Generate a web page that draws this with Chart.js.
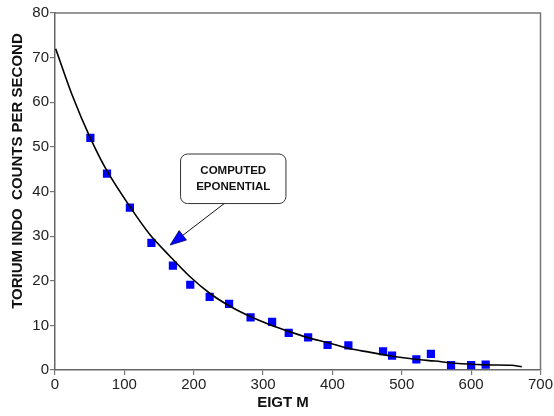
<!DOCTYPE html>
<html>
<head>
<meta charset="utf-8">
<script src="https://cdn.jsdelivr.net/npm/chart.js@4/dist/chart.umd.min.js"></script>
<style>
html,body{margin:0;padding:0;background:#ffffff;}
#wrap{width:554px;height:416px;position:relative;}
</style>
</head>
<body>
<div id="wrap"><canvas id="c" width="554" height="416"></canvas></div>
<script>
// ---- data ----
const depthMeasured  = [51, 75, 108, 139, 170, 195, 223, 251, 282, 313, 337, 365, 393, 423, 473, 486, 521, 542, 571, 600, 621];
const countsMeasured = [52, 44, 36.4, 28.5, 23.4, 19.1, 16.4, 14.8, 11.8, 10.8, 8.3, 7.3, 5.6, 5.5, 4.2, 3.2, 2.4, 3.6, 1.1, 1.1, 1.2];
const depthCurve  = [1, 25, 50, 75, 108, 137, 165, 194, 223, 251, 280, 309, 338, 366, 394, 424, 453, 486, 520, 548, 577, 620, 658, 673];
const countsCurve = [72.0, 61.5, 52.3, 44.6, 36.6, 30.3, 25.6, 21.0, 17.2, 14.4, 12.1, 10.2, 8.6, 7.2, 6.1, 4.8, 4.0, 3.1, 2.4, 2.0, 1.5, 1.15, 1.05, 0.75];
const xTicks = [0, 100, 200, 300, 400, 500, 600, 700];
const yTicks = [0, 10, 20, 30, 40, 50, 60, 70, 80];
const xTitle = 'EIGT M';
const yTitle = 'TORIUM INDO  COUNTS PER SECOND';
const calloutLines = ['COMPUTED', 'EPONENTIAL'];
// callout anchored in data units
const calloutBox = {x0: 181, x1: 333, y0: 37.3, y1: 48.4};
const calloutArrowFrom = {x: 244, y: 37.3};
const calloutArrowTo = {x: 166, y: 28.0};

const FONT = '"Liberation Sans", Arial, Helvetica, sans-serif';

function toPts(xs, ys) { return xs.map((x, i) => ({x: x, y: ys[i]})); }

const framePlugin = {
  id: 'frame',
  beforeDatasetsDraw(chart) {
    const a = chart.chartArea, ctx = chart.ctx;
    ctx.save();
    ctx.strokeStyle = '#777777';
    ctx.lineWidth = 1.5;
    ctx.beginPath();
    ctx.moveTo(a.left, a.top);
    ctx.lineTo(a.right, a.top);
    ctx.lineTo(a.right, a.bottom);
    ctx.stroke();
    ctx.restore();
  },
  afterDraw(chart) {
    const ctx = chart.ctx, xs = chart.scales.x, ys = chart.scales.y;
    ctx.save();
    // axis titles
    ctx.fillStyle = '#111111';
    ctx.font = 'bold 15px ' + FONT;
    ctx.textAlign = 'center';
    ctx.textBaseline = 'middle';
    ctx.fillText(xTitle, 283, 403);
    ctx.save();
    ctx.translate(18, 171);
    ctx.rotate(-Math.PI / 2);
    ctx.fillText(yTitle, 0, 0);
    ctx.restore();

    // callout box
    const bx0 = xs.getPixelForValue(calloutBox.x0), bx1 = xs.getPixelForValue(calloutBox.x1);
    const by0 = ys.getPixelForValue(calloutBox.y1), by1 = ys.getPixelForValue(calloutBox.y0);
    const r = 7;
    ctx.beginPath();
    ctx.moveTo(bx0 + r, by0);
    ctx.lineTo(bx1 - r, by0);
    ctx.arcTo(bx1, by0, bx1, by0 + r, r);
    ctx.lineTo(bx1, by1 - r);
    ctx.arcTo(bx1, by1, bx1 - r, by1, r);
    ctx.lineTo(bx0 + r, by1);
    ctx.arcTo(bx0, by1, bx0, by1 - r, r);
    ctx.lineTo(bx0, by0 + r);
    ctx.arcTo(bx0, by0, bx0 + r, by0, r);
    ctx.closePath();
    ctx.fillStyle = '#ffffff';
    ctx.fill();
    ctx.strokeStyle = '#333333';
    ctx.lineWidth = 1;
    ctx.stroke();

    ctx.fillStyle = '#111111';
    ctx.font = 'bold 11.5px ' + FONT;
    const cx = (bx0 + bx1) / 2, cy = (by0 + by1) / 2;
    ctx.fillText(calloutLines[0], cx, cy - 8.3);
    ctx.fillText(calloutLines[1], cx, cy + 8.3);

    // arrow
    const ax0 = xs.getPixelForValue(calloutArrowFrom.x), ay0 = ys.getPixelForValue(calloutArrowFrom.y);
    const ax1 = xs.getPixelForValue(calloutArrowTo.x), ay1 = ys.getPixelForValue(calloutArrowTo.y);
    const ang = Math.atan2(ay1 - ay0, ax1 - ax0);
    const L = 16, W = 6;
    const baseX = ax1 - L * Math.cos(ang), baseY = ay1 - L * Math.sin(ang);
    ctx.strokeStyle = '#111111';
    ctx.lineWidth = 1;
    ctx.beginPath();
    ctx.moveTo(ax0, ay0);
    ctx.lineTo(baseX, baseY);
    ctx.stroke();
    ctx.beginPath();
    ctx.moveTo(ax1, ay1);
    ctx.lineTo(baseX + W * Math.sin(ang), baseY - W * Math.cos(ang));
    ctx.lineTo(baseX - W * Math.sin(ang), baseY + W * Math.cos(ang));
    ctx.closePath();
    ctx.fillStyle = '#0000ff';
    ctx.fill();
    ctx.strokeStyle = '#000066';
    ctx.lineWidth = 0.8;
    ctx.stroke();
    ctx.restore();
  }
};

new Chart(document.getElementById('c'), {
  type: 'scatter',
  data: {
    datasets: [
      {
        label: 'Computed exponential',
        data: toPts(depthCurve, countsCurve),
        showLine: true,
        borderColor: '#000000',
        borderWidth: 1.6,
        pointRadius: 0,
        tension: 0.3,
        fill: false
      },
      {
        label: 'Measured',
        data: toPts(depthMeasured, countsMeasured),
        showLine: false,
        pointStyle: 'rect',
        pointRadius: 5.8,
        pointBackgroundColor: '#0000ff',
        pointBorderWidth: 0,
        pointBorderColor: '#0000ff'
      }
    ]
  },
  options: {
    responsive: false,
    animation: false,
    devicePixelRatio: 1,
    layout: {padding: {top: 13, right: 0, left: 0, bottom: 0}},
    plugins: {legend: {display: false}, tooltip: {enabled: false}, title: {display: false}},
    scales: {
      x: {
        type: 'linear',
        min: xTicks[0],
        max: xTicks[xTicks.length - 1],
        afterBuildTicks(scale) { scale.ticks = xTicks.map(v => ({value: v})); },
        afterFit(scale) { scale.height = 46; },
        ticks: {color: '#222222', font: {family: FONT, size: 15}, padding: 1, maxRotation: 0, autoSkip: false},
        grid: {drawOnChartArea: false, drawTicks: true, tickLength: 5, color: '#777777', lineWidth: 1.2},
        border: {display: true, color: '#666666', width: 1.5},
        title: {display: false}
      },
      y: {
        type: 'linear',
        min: yTicks[0],
        max: yTicks[yTicks.length - 1],
        afterBuildTicks(scale) { scale.ticks = yTicks.map(v => ({value: v})); },
        afterFit(scale) { scale.width = 55; },
        ticks: {color: '#222222', font: {family: FONT, size: 15}, padding: 1, autoSkip: false},
        grid: {drawOnChartArea: false, drawTicks: true, tickLength: 5, color: '#777777', lineWidth: 1.2},
        border: {display: true, color: '#666666', width: 1.5},
        title: {display: false}
      }
    }
  },
  plugins: [framePlugin]
});
</script>
</body>
</html>
